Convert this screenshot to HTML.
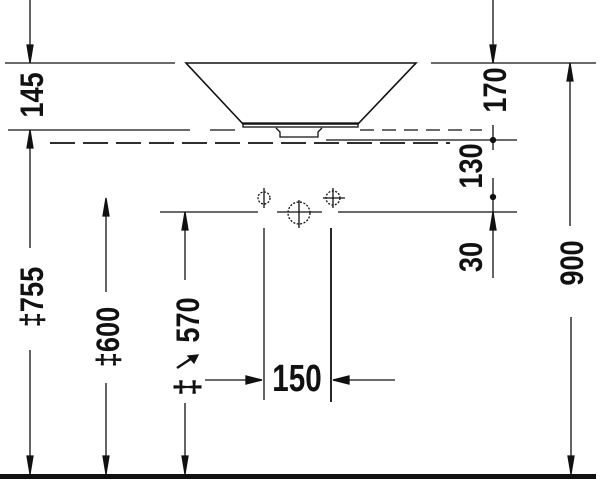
<!DOCTYPE html>
<html><head><style>body{margin:0;background:#fff}svg{display:block}text{font-family:"Liberation Sans",sans-serif;font-weight:bold;font-size:32px;fill:#111}</style></head><body>
<svg width="600" height="481" viewBox="0 0 600 481" xmlns="http://www.w3.org/2000/svg" stroke="#111" fill="none" stroke-width="1.3">
<line x1="5" y1="63" x2="175" y2="63"/>
<line x1="431" y1="63" x2="596" y2="63"/>
<path d="M186,63 L416,63 L358,124 L243,124 Z" stroke-width="1.6"/>
<rect x="243" y="123" width="115" height="4" stroke-width="1.3"/>
<path d="M276,128 L280,132 L280,137 L318,137 L318,132 L322,128" stroke-width="1.3"/>
<line x1="8" y1="130" x2="190" y2="130"/>
<line x1="210" y1="130" x2="235" y2="130"/>
<line x1="360" y1="130" x2="482" y2="130" stroke-dasharray="14,8"/>
<line x1="50" y1="143" x2="450" y2="143" stroke-dasharray="25,8" stroke-width="1.8"/>
<line x1="326" y1="140" x2="517" y2="140"/>
<line x1="160" y1="212" x2="258" y2="212"/>
<line x1="277" y1="212" x2="322" y2="212"/>
<line x1="338" y1="212" x2="517" y2="212"/>
<circle cx="264" cy="198" r="6" stroke-dasharray="2,1.5"/>
<line x1="264" y1="188" x2="264" y2="208"/>
<circle cx="333" cy="198" r="7" stroke-dasharray="2,1.5"/>
<line x1="323" y1="198" x2="345" y2="198"/><line x1="333" y1="188" x2="333" y2="208"/>
<circle cx="299" cy="213" r="11" stroke-dasharray="2,1.5"/>
<line x1="299" y1="200" x2="299" y2="228"/>
<line x1="264" y1="228" x2="264" y2="400"/>
<line x1="331" y1="228" x2="331" y2="402" stroke-width="1.8"/>
<line x1="205" y1="380" x2="262" y2="380"/>
<line x1="333" y1="380" x2="395" y2="380"/>
<path d="M262,380 L246,376 L246,384 Z M333,380 L349,376 L349,384 Z" fill="#111"/>
<rect x="0" y="474" width="596" height="5" fill="#111" stroke="none"/>
<line x1="30" y1="0" x2="30" y2="63"/>
<path d="M30,63 L27,45 L33,45 Z" fill="#111"/>
<line x1="30" y1="130" x2="30" y2="248"/>
<path d="M30,130 L27,148 L33,148 Z" fill="#111"/>
<line x1="30" y1="350" x2="30" y2="474"/>
<path d="M30,474 L27,456 L33,456 Z" fill="#111"/>
<line x1="106" y1="200" x2="106" y2="292"/>
<path d="M106,198 L103,216 L109,216 Z" fill="#111"/>
<line x1="106" y1="383" x2="106" y2="474"/>
<path d="M106,474 L103,456 L109,456 Z" fill="#111"/>
<line x1="185" y1="212" x2="185" y2="280"/>
<path d="M185,212 L182,230 L188,230 Z" fill="#111"/>
<line x1="185" y1="403" x2="185" y2="474"/>
<path d="M185,474 L182,456 L188,456 Z" fill="#111"/>
<line x1="177" y1="368" x2="195" y2="356" stroke-width="2.5"/>
<path d="M198,355 L188,356 L194,363 Z" fill="#111"/>
<line x1="493" y1="0" x2="493" y2="63"/>
<path d="M493,63 L490,45 L496,45 Z" fill="#111"/>
<line x1="493" y1="125" x2="493" y2="150"/>
<circle cx="493" cy="140" r="2.5" fill="#111"/>
<line x1="493" y1="178" x2="493" y2="212"/>
<circle cx="493" cy="197" r="2.5" fill="#111"/>
<path d="M493,212 L490,230 L496,230 Z" fill="#111"/>
<line x1="493" y1="212" x2="493" y2="278"/>
<line x1="570" y1="63" x2="570" y2="226"/>
<path d="M570,63 L567,81 L573,81 Z" fill="#111"/>
<line x1="571" y1="317" x2="571" y2="474"/>
<path d="M571,474 L568,456 L574,456 Z" fill="#111"/>
<g stroke="none">
<text transform="translate(43,95) rotate(-90) scale(0.85,1)" text-anchor="middle">145</text>
<text transform="translate(43,297) rotate(-90) scale(0.85,1)" text-anchor="middle">‡755</text>
<text transform="translate(119,337) rotate(-90) scale(0.85,1)" text-anchor="middle">‡600</text>
<text transform="translate(199,320) rotate(-90) scale(0.85,1)" text-anchor="middle">570</text>
<text transform="translate(199,387) rotate(-90) scale(1,1.1)" text-anchor="middle">‡</text>
<text transform="translate(506,90) rotate(-90) scale(0.85,1)" text-anchor="middle">170</text>
<text transform="translate(482,166) rotate(-90) scale(0.85,1)" text-anchor="middle">130</text>
<text transform="translate(482,257) rotate(-90) scale(0.85,1)" text-anchor="middle">30</text>
<text transform="translate(583,263) rotate(-90) scale(0.85,1)" text-anchor="middle">900</text>
<text transform="translate(297,391) scale(0.78,1)" text-anchor="middle" style="font-size:38px">150</text>
</g>
</svg>
</body></html>
